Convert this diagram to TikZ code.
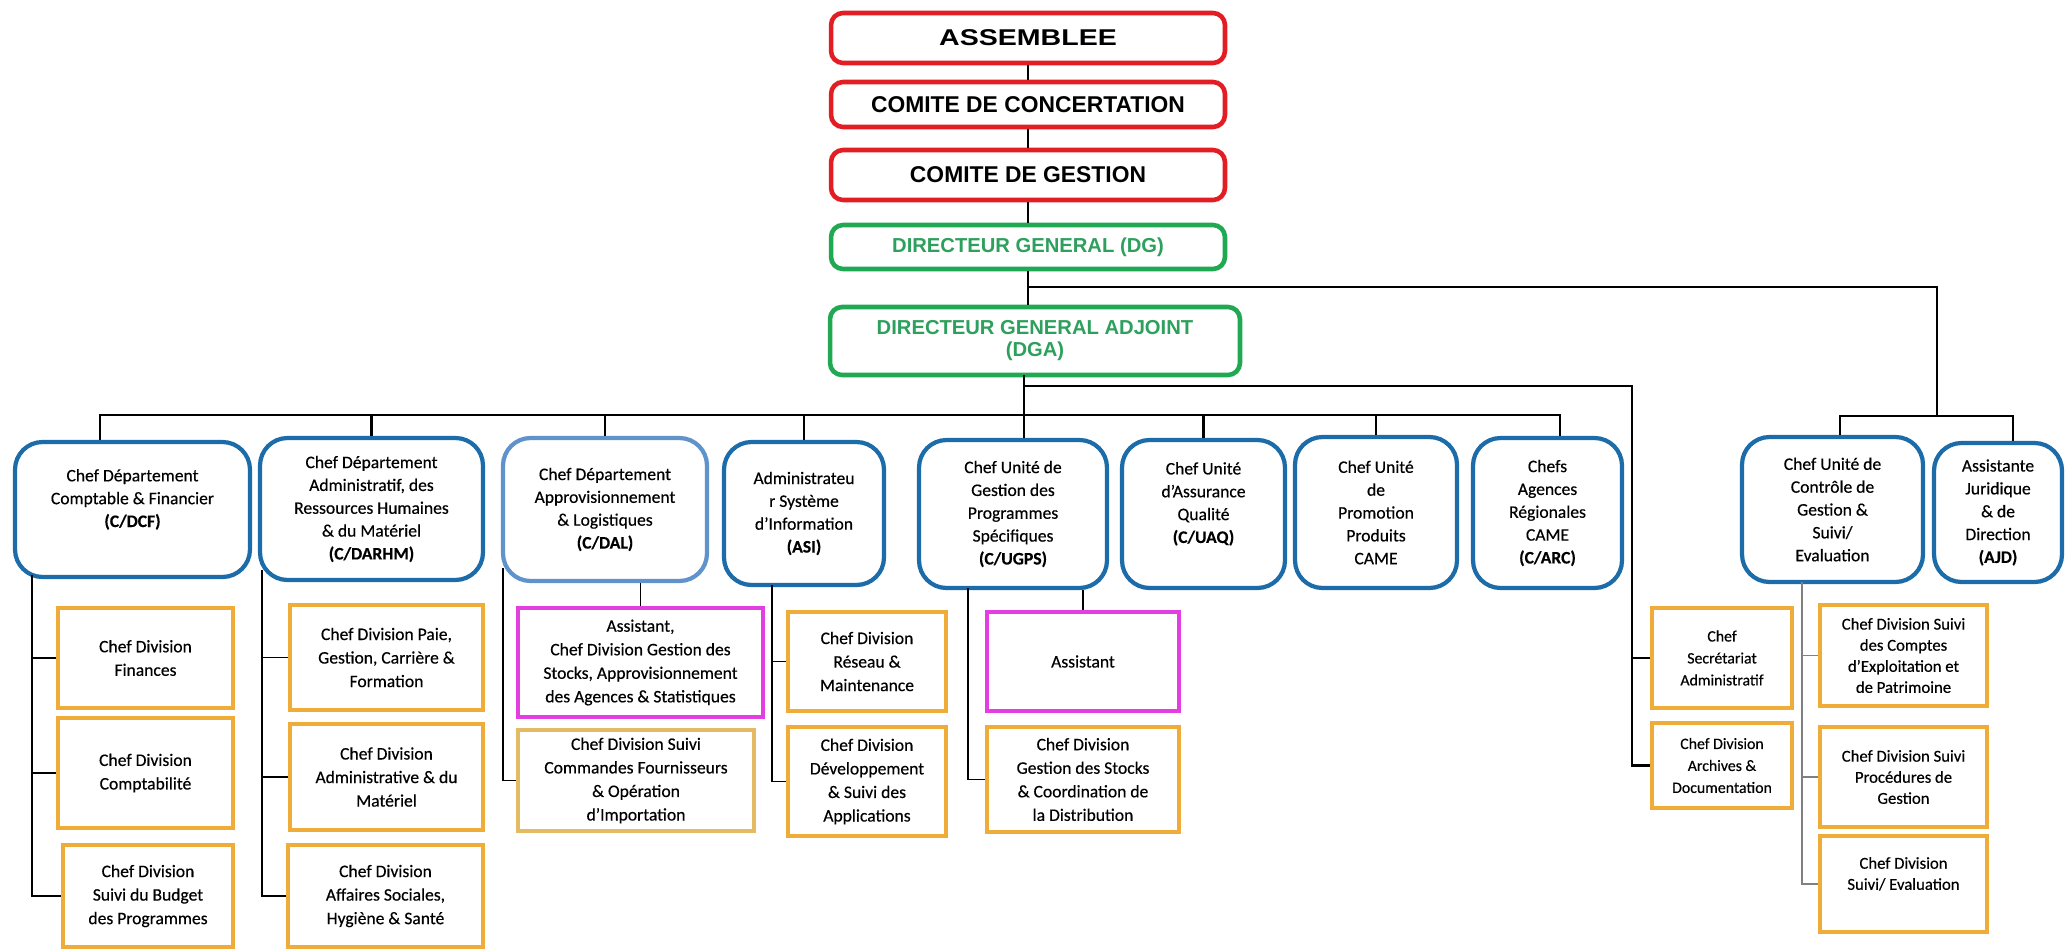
\documentclass[tikz,border=0pt]{standalone}
\usepackage{fontspec}
\usepackage{graphicx}
\setmainfont{Carlito}[FakeBold=0.4]
\newfontfamily\headfont{Liberation Sans}

\definecolor{cRed}{RGB}{226,30,36}
\definecolor{cGreen}{RGB}{32,168,82}
\definecolor{cGreenText}{RGB}{44,160,92}
\definecolor{cBlue}{RGB}{28,108,170}
\definecolor{cBlueLight}{RGB}{96,146,204}
\definecolor{cOrange}{RGB}{240,172,56}
\definecolor{cGold}{RGB}{228,186,98}
\definecolor{cMagenta}{RGB}{226,62,226}

\tikzset{
  comite/.style={draw=cRed, line width=2.6pt, rounded corners=0.24cm, minimum width=7.88cm,
    font=\headfont\bfseries\fontsize{13}{15}\selectfont},
  direction/.style={draw=cGreen, line width=2.6pt, rounded corners=0.24cm, text=cGreenText,
    align=center, font=\headfont\bfseries\fontsize{11.5}{12.5}\selectfont},
  dept/.style={draw=cBlue, line width=2.4pt, rounded corners=0.55cm, align=center,
    font=\fontsize{10}{13}\selectfont},
  div/.style={draw=cOrange, line width=2pt, align=center, font=\fontsize{10}{13.4}\selectfont},
  assist/.style={draw=cMagenta, line width=1.8pt, align=center, font=\fontsize{10}{13.4}\selectfont},
  smalltext/.style={font=\fontsize{9}{12.5}\selectfont},
  narrowtext/.style={font=\fontsize{9.5}{12}\selectfont},
  link/.style={line width=1.5pt},
  sublink/.style={line width=1.1pt}
}

\begin{document}
\begin{tikzpicture}[x=0.02cm,y=-0.02cm]
\fill[white] (0,0) rectangle (2065,950);
\useasboundingbox (0,0) rectangle (2065,950);

% instances
\node[comite, minimum height=1cm] (asm) at (1028,38) {\scalebox{1.25}[1]{ASSEMBLEE}};
\node[comite, minimum height=0.9cm] (cc) at (1028,104.5) {COMITE DE CONCERTATION};
\node[comite, minimum height=1cm] (cg) at (1028,175) {COMITE DE GESTION};
\node[direction, minimum width=7.88cm, minimum height=0.88cm] (dg) at (1028,247) {DIRECTEUR GENERAL (DG)};
\node[direction, minimum width=8.2cm, minimum height=1.36cm] (dga) at (1035,341) {DIRECTEUR GENERAL ADJOINT\\(DGA)};

% departements et unites
\node[dept, minimum width=4.7cm, minimum height=2.7cm] (dcf) at (132.5,509.5) {Chef Département\\Comptable \& Financier\\\textbf{(C/DCF)}\\\mbox{}};
\node[dept, minimum width=4.46cm, minimum height=2.84cm] (darhm) at (371.5,509) {Chef Département\\Administratif, des\\Ressources Humaines\\\& du Matériel\\\textbf{(C/DARHM)}};
\node[dept, draw=cBlueLight, minimum width=4.08cm, minimum height=2.86cm] (dal) at (605,509.5) {Chef Département\\Approvisionnement\\\& Logistiques\\\textbf{(C/DAL)}};
\node[dept, minimum width=3.2cm, minimum height=2.86cm] (asi) at (804,513.5) {Administrateu\\r Système\\d'Information\\\textbf{(ASI)}};
\node[dept, minimum width=3.76cm, minimum height=2.96cm] (ugps) at (1013,514) {Chef Unité de\\Gestion des\\Programmes\\Spécifiques\\\textbf{(C/UGPS)}};
\node[dept, minimum width=3.26cm, minimum height=2.96cm] (uaq) at (1203.5,514) {Chef Unité\\d'Assurance\\Qualité\\\textbf{(C/UAQ)}\\\mbox{}};
\node[dept, minimum width=3.24cm, minimum height=3.02cm] (upp) at (1376,512.5) {Chef Unité\\de\\Promotion\\Produits\\CAME};
\node[dept, minimum width=2.98cm, minimum height=3cm] (arc) at (1547.5,513) {Chefs\\Agences\\Régionales\\CAME\\\textbf{(C/ARC)}};
\node[dept, minimum width=3.62cm, minimum height=2.9cm] (cgse) at (1832.5,509.5) {Chef Unité de\\Contrôle de\\Gestion \&\\Suivi/\\Evaluation};
\node[dept, minimum width=2.56cm, minimum height=2.78cm] (ajd) at (1998,512.5) {Assistante\\Juridique\\\& de\\Direction\\\textbf{(AJD)}};

% divisions
\node[div, minimum width=3.5cm, minimum height=2cm] (fin) at (145.5,658) {Chef Division\\Finances};
\node[div, minimum width=3.5cm, minimum height=2.2cm] (cpt) at (145.5,773) {Chef Division\\Comptabilité};
\node[div, minimum width=3.4cm, minimum height=2.04cm] (bud) at (148,896) {Chef Division\\Suivi du Budget\\des Programmes};
\node[div, minimum width=3.86cm, minimum height=2.1cm] (paie) at (386.5,657.5) {Chef Division Paie,\\Gestion, Carrière \&\\Formation};
\node[div, minimum width=3.86cm, minimum height=2.12cm] (adm) at (386.5,777) {Chef Division\\Administrative \& du\\Matériel};
\node[div, minimum width=3.9cm, minimum height=2.04cm] (soc) at (385.5,896) {Chef Division\\Affaires Sociales,\\Hygiène \& Santé};
\node[assist, minimum width=4.9cm, minimum height=2.18cm] (ast1) at (640.5,662.5) {Assistant,\\Chef Division Gestion des\\Stocks, Approvisionnement\\des Agences \& Statistiques};
\node[div, draw=cGold, minimum width=4.72cm, minimum height=2.02cm] (cmd) at (636,780.5) {Chef Division Suivi\\Commandes Fournisseurs\\\& Opération\\d'Importation};
\node[div, minimum width=3.16cm, minimum height=1.98cm] (res) at (867,661.5) {Chef Division\\Réseau \&\\Maintenance};
\node[div, minimum width=3.16cm, minimum height=2.18cm] (dev) at (867,781.5) {Chef Division\\Développement\\\& Suivi des\\Applications};
\node[assist, minimum width=3.84cm, minimum height=1.98cm] (ast2) at (1083,661.5) {Assistant};
\node[div, minimum width=3.84cm, minimum height=2.1cm] (stk) at (1083,779.5) {Chef Division\\Gestion des Stocks\\\& Coordination de\\la Distribution};
\node[div, smalltext, minimum width=2.8cm, minimum height=2cm] (sec) at (1722,658) {Chef\\Secrétariat\\Administratif};
\node[div, smalltext, minimum width=2.8cm, minimum height=1.7cm] (arch) at (1722,765.5) {Chef Division\\Archives \&\\Documentation};
\node[div, narrowtext, minimum width=3.34cm, minimum height=2.02cm] (cpe) at (1903.5,655.5) {Chef Division Suivi\\des Comptes\\d'Exploitation et\\de Patrimoine};
\node[div, narrowtext, minimum width=3.34cm, minimum height=2cm] (proc) at (1903.5,777) {Chef Division Suivi\\Procédures de\\Gestion};
\node[div, narrowtext, minimum width=3.34cm, minimum height=1.92cm] (sev) at (1903.5,884) {Chef Division\\Suivi/ Evaluation\\\mbox{}};

\coordinate (dgjoin) at (1028,287);
\coordinate (dgright) at (1937,416);
\coordinate (trunk) at (1024,375);
\coordinate (bus) at (1024,415);
\coordinate (upper) at (1632,386);

\draw[link] (asm) -- (cc);
\draw[link] (cc) -- (cg);
\draw[link] (cg) -- (dg);
\draw[link] (dg.south) -- (dg.south |- dga.north);
\draw[link] (dgjoin) -| (dgright);
\draw[link] ([xshift=0.15cm]cgse.north) |- (dgright) -| ([xshift=0.3cm]ajd.north);

\draw[link] (trunk) -- (trunk |- ugps.north);
\draw[link] ([xshift=-0.65cm]dcf.north) |- (bus) -| ([xshift=0.25cm]arc.north);
\foreach \n in {darhm,dal,asi,uaq,upp}
  \draw[link] (\n.north |- bus) -- (\n.north);
\draw[link] (trunk |- upper) -- (upper) |- (arch.west);
\draw[sublink] (upper |- sec.west) -- (sec.west);

\coordinate (dcfspine) at (32,575);
\draw[sublink] (dcfspine) |- (bud.west);
\foreach \n in {fin,cpt}
  \draw[sublink] (dcfspine |- \n.west) -- (\n.west);

\coordinate (darhmspine) at (262,570);
\draw[sublink] (darhmspine) |- (soc.west);
\foreach \n in {paie,adm}
  \draw[sublink] (darhmspine |- \n.west) -- (\n.west);

\coordinate (dalspine) at (503,568);
\draw[sublink] (dalspine) |- (cmd.west);
\draw[sublink] (ast1.north |- dal.south) -- (ast1.north);

\coordinate (asispine) at (772,585);
\draw[sublink] (asispine) |- (dev.west);
\draw[sublink] (asispine |- res.west) -- (res.west);

\coordinate (ugpsspine) at (968,588);
\draw[sublink] (ugpsspine) |- (stk.west);
\draw[sublink] (ast2.north |- ugps.south) -- (ast2.north);

\coordinate (cgsespine) at (1802,582);
\draw[sublink, gray] (cgsespine) |- (sev.west);
\foreach \n in {cpe,proc}
  \draw[sublink, gray] (cgsespine |- \n.west) -- (\n.west);
\end{tikzpicture}
\end{document}
